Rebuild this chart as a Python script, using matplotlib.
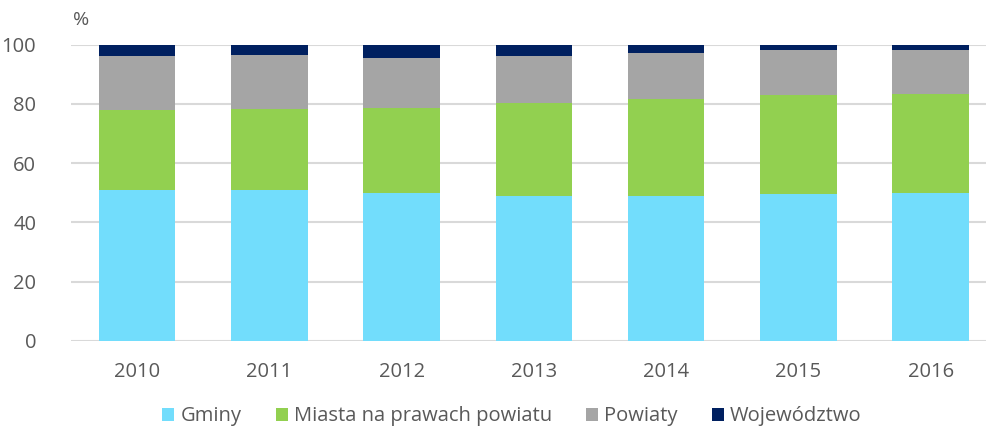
import matplotlib
matplotlib.use("Agg")
import matplotlib.pyplot as plt
import numpy as np
from matplotlib.patches import Patch

years = ["2010", "2011", "2012", "2013", "2014", "2015", "2016"]
gminy = [50.9, 51.1, 50.0, 49.1, 49.1, 49.7, 50.0]
miasta = [27.1, 27.3, 28.6, 31.3, 32.7, 33.2, 33.5]
powiaty = [18.2, 18.0, 17.0, 15.9, 15.4, 15.2, 14.7]
wojewodztwo = [3.8, 3.6, 4.4, 3.7, 2.8, 1.9, 1.8]

series = [
    ("Gminy", gminy, "#72DDFC"),
    ("Miasta na prawach powiatu", miasta, "#92D050"),
    ("Powiaty", powiaty, "#A5A5A5"),
    ("Województwo", wojewodztwo, "#002060"),
]

plt.rcParams['font.family'] = ['Open Sans', 'DejaVu Sans']
fig = plt.figure(figsize=(9.86, 4.28), dpi=100)
ax = fig.add_axes([71/986, 1-341/428, 1-71/986, (341-44.7)/428])

x = np.arange(len(years))
bottom = np.zeros(len(years))
for name, vals, col in series:
    ax.bar(x, vals, bottom=bottom, width=0.578, color=col, label=name, zorder=3)
    bottom += np.array(vals)

ax.set_ylim(0, 100)
ax.set_xlim(-0.5, (986-71)/132.25 - 0.5)
ax.set_yticks([0, 20, 40, 60, 80, 100])
ax.yaxis.grid(True, color="#D9D9D9", linewidth=1.5, zorder=0)
ax.set_axisbelow(True)
for s in ax.spines.values():
    s.set_visible(False)
ax.tick_params(axis='both', length=0, labelsize=14.5, labelcolor="#595959")
ax.tick_params(axis='y', pad=25)
ax.tick_params(axis='x', pad=15)
ax.set_xticks(x)
ax.set_xticklabels(years)

fig.text(81/986, 1-20/428, "%", fontsize=14, color="#595959", ha="center", va="center")

handles = [Patch(facecolor=c, edgecolor="none") for _, _, c in series]
labels = [n for n, _, _ in series]
fig.legend(handles, labels, loc="center", bbox_to_anchor=(512/986, 1-416.5/428), ncol=4,
           frameon=False, fontsize=14.5, labelcolor="#595959", handlelength=0.6,
           handleheight=0.6, handletextpad=0.3, columnspacing=1.7, borderpad=0.1)

fig.savefig("out.png", dpi=100)
